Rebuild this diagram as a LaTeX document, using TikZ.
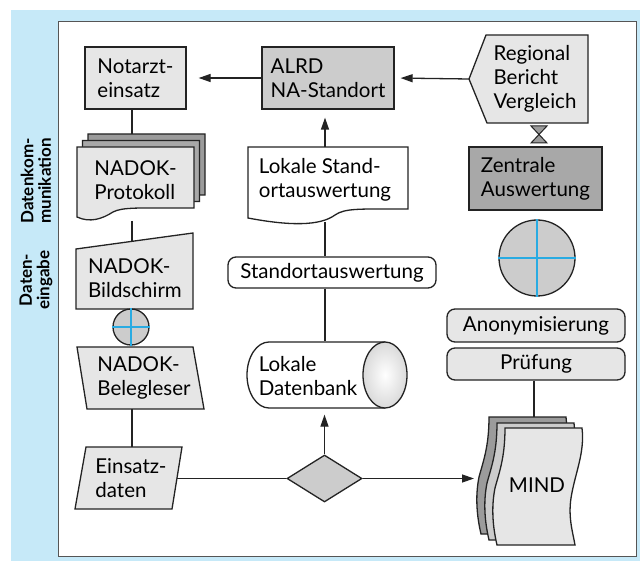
\documentclass[tikz,border=0pt]{standalone}
\usepackage{fontspec}
\setmainfont{Lato}
\usetikzlibrary{shapes.geometric,arrows.meta}
\definecolor{bgblue}{RGB}{198,233,248}
\definecolor{framegray}{RGB}{85,85,85}
\definecolor{linecol}{RGB}{35,35,35}
\definecolor{lgray}{RGB}{230,230,230}
\definecolor{mgray}{RGB}{204,204,204}
\definecolor{dgray}{RGB}{168,168,168}
\definecolor{pgray}{RGB}{155,155,155}
\definecolor{endgray}{RGB}{218,218,218}
\definecolor{crossblue}{RGB}{41,171,226}
\newcommand\docpage{(0,0) -- (117,0) -- (117,61) .. controls (60,61) and (46,60) .. (36,65) .. controls (25,72) and (13,76) .. (0,70) -- cycle}
\newcommand\mindpage{(0,0) -- (77,0) .. controls (80,25) and (70,45) .. (66,70) .. controls (63,90) and (68,105) .. (70,117) -- (-8,117) .. controls (-12,100) and (-14,80) .. (-10,60) .. controls (-6,45) and (0,30) .. (0,0) -- cycle}

\begin{document}
\begin{tikzpicture}[x=1pt, y=-1pt, line width=1.3pt, draw=linecol,
  every node/.style={font=\fontsize{20.5}{24}\selectfont, align=left, inner sep=0pt},
  box/.style={draw, fill=lgray},
  arr/.style={-{Triangle[length=12pt,width=8pt]}, shorten >=6pt},
  sidelabel/.style={rotate=90, align=center, font=\bfseries\fontsize{17}{17.5}\selectfont}]
\useasboundingbox (0,0) rectangle (640,561);
\fill[bgblue] (11,10) rectangle (640,561);
\draw[framegray, fill=white, line width=1pt] (58,22) rectangle (636,556);

\node[sidelabel] (lblkom) at (36,181) {Datenkom-\\munikation};
\node[sidelabel] (lbleing) at (36,280) {Daten-\\eingabe};

% obere Reihe
\node[box, minimum width=101pt, minimum height=62pt] (nae) at (135.5,78) {Notarzt-\\einsatz};
\node[box, fill=mgray, minimum width=132pt, minimum height=62pt] (alrd) at (328,78) {ALRD\\NA-Standort};
\draw[fill=lgray] (469,79) -- (486,35) -- (588,35) -- (588,123) -- (487,123) -- cycle;
\node (reg) at (535,79) {Regional\\Bericht\\Vergleich};
\coordinate (regtip) at (469,79);
\draw[fill=pgray, line width=1pt] (531,126) -- (547,126) -- (531,143) -- (547,143) -- cycle;
\node[box, fill=dgray, line width=2.6pt, minimum width=133pt, minimum height=63pt] (zen) at (535.5,178.5) {Zentrale\\Auswertung};

\draw[arr, shorten >=12pt] (alrd.west) -- (nae.east);
\draw[arr] (regtip) -- (alrd.east);

% linke Spalte
\foreach \dx/\dy/\col in {11/-13/pgray, 5.5/-6.5/dgray, 0/0/lgray}
  \draw[fill=\col, shift={(77+\dx,147+\dy)}] \docpage;
\node (prot) at (135.5,180) {NADOK-\\Protokoll};
\draw[fill=lgray] (76,249) -- (193,233) -- (193,309) -- (76,309) -- cycle;
\node (bild) at (135,278) {NADOK-\\Bildschirm};
\node[circle, draw, fill=mgray, minimum size=36pt] (scr) at (131,327) {};
\draw[crossblue, line width=1.1pt] (scr.west) -- (scr.east) (scr.north) -- (scr.south);
\draw[fill=lgray] (77,347) -- (193,347) -- (204,409) -- (87,409) -- cycle;
\node (bel) at (144,378) {NADOK-\\Belegleser};
\draw[fill=lgray] (86,447) -- (182,447) -- (172,509) -- (75,509) -- cycle;
\node (ein) at (131,478) {Einsatz-\\daten};

\coordinate (protin) at (132,134);
\coordinate (protout) at (132,221);
\coordinate (bildin) at (132,241.5);
\coordinate (belout) at (132,409);
\coordinate (einin) at (132,447);
\coordinate (einout) at (177,478.5);
\draw (nae.south -| protin) -- (protin);
\draw (protout) -- (bildin);
\draw (belout) -- (einin);

% mittlere Spalte
\draw[fill=white] (248,147) -- (408,147) -- (408,209) .. controls (360,209) and (345,208) .. (335,215) .. controls (320,226) and (290,226) .. (248,218) -- cycle;
\node (lsa) at (325,180) {Lokale Stand-\\ortauswertung};
\coordinate (lsatop) at (325,147);
\coordinate (lsabot) at (325,222);
\node[box, fill=white, rounded corners=8pt, minimum width=208pt, minimum height=31pt] (sa) at (332,272.5) {Standortauswertung};
\node[minimum width=161pt, minimum height=66pt] (db) at (327.5,375) {};
\draw[fill=white] (385,342) -- (269,342) arc[start angle=270, end angle=90, x radius=22, y radius=33] -- (385,408);
\shadedraw[inner color=white, outer color=endgray] (385,375) ellipse[x radius=22, y radius=33];
\node (dbt) at (308,376) {Lokale\\Datenbank};
\node[diamond, draw, fill=mgray, minimum width=75pt, minimum height=47pt] (dec) at (324.5,478.5) {};

\draw[arr, shorten >=8pt] (lsatop) -- (alrd.south -| lsatop);
\draw (lsabot) -- (sa.north -| lsabot);
\draw (sa.south -| lsabot) -- (db.north -| lsabot);
\draw[arr] (dec.north) -- (db.south -| dec.north);
\draw (einout) -- (dec.west);

% rechte Spalte
\node[circle, draw, fill=mgray, minimum size=76pt] (sort) at (537,258) {};
\draw[crossblue, line width=1.1pt] (sort.west) -- (sort.east) (sort.north) -- (sort.south);
\node[box, rounded corners=8pt, align=center, minimum width=178pt, minimum height=33pt] (anon) at (536,325.5) {Anonymisierung};
\node[box, rounded corners=8pt, align=center, minimum width=178pt, minimum height=32pt] (pruef) at (536,364) {Prüfung};
\foreach \dx/\dy/\col in {-16/-11/pgray, -8/-5/mgray, 0/0/lgray}
  \draw[fill=\col, shift={(505+\dx,428+\dy)}] \mindpage;
\node (mind) at (537,485) {MIND};
\coordinate (mindtop) at (534,417);
\coordinate (mindin) at (474,478.5);
\draw (pruef.south -| mindtop) -- (mindtop);
\draw[arr, shorten >=0pt] (dec.east) -- (mindin);
\end{tikzpicture}
\end{document}
